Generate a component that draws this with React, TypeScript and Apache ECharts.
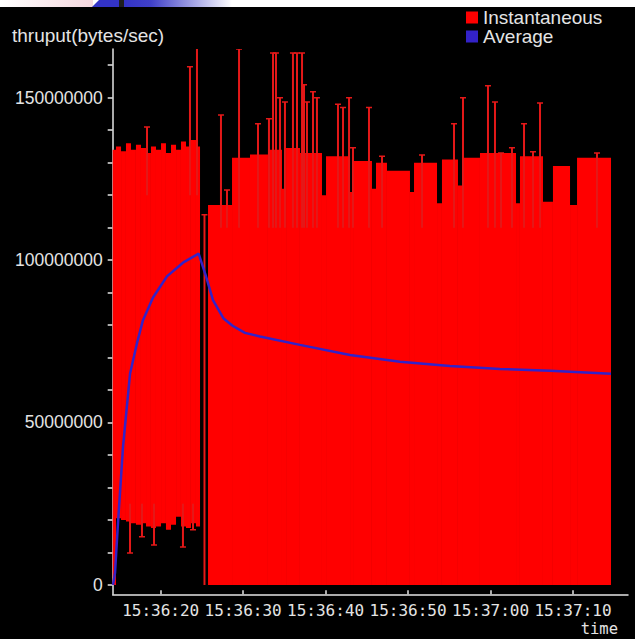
import React, { useEffect, useRef } from 'react';
import * as echarts from 'echarts';

// Time values are seconds after 15:36:00; throughput values are in millions of bytes/sec.
const X_MIN = 14.18;
const X_MAX = 76.67;
const Y_MIN_M = -2.9;
const Y_MAX_M = 165;

const xTickSeconds = [20, 30, 40, 50, 60, 70];
const yLabelValuesM = [0, 50, 100, 150];
const yTickValuesM = [0, 10, 20, 30, 40, 50, 60, 70, 80, 90, 100, 110, 120, 130, 140, 150, 160];

const seriesNames = ['Instantaneous', 'Average'];

// Instantaneous: envelope of the dense samples (start, end, low, high)
const segStart = [
  14.18, 14.58, 15.19, 15.79, 16.4, 17.0, 17.61, 18.22, 18.82, 19.43, 20.04, 20.64, 21.25, 21.86, 22.46, 23.07, 23.67, 24.28,
  25.74, 28.65, 30.83, 33.01, 34.71, 35.2, 36.89, 39.56, 40.05, 42.96, 43.44, 45.62, 46.11, 47.44, 50.23, 50.72, 53.51,
  54.11, 56.05, 56.54, 58.72, 63.09, 63.57, 66.36, 67.57, 69.64, 70.49,
];
const segEnd = [
  14.58, 15.19, 15.79, 16.4, 17.0, 17.61, 18.22, 18.82, 19.43, 20.04, 20.64, 21.25, 21.86, 22.46, 23.07, 23.67, 24.28, 24.77,
  28.65, 30.83, 33.01, 34.71, 35.2, 36.89, 39.56, 40.05, 42.96, 43.44, 45.62, 46.11, 47.44, 50.23, 50.72, 53.51, 54.11,
  56.05, 56.54, 58.72, 63.09, 63.57, 66.36, 67.57, 69.64, 70.49, 74.61,
];
const segLowM = [
  0, 20.5, 20, 19.5, 19, 18.5, 19, 18, 17.5, 18, 19, 17, 18.5, 21, 18, 17.5, 19, 18,
  0, 0, 0, 0, 0, 0, 0, 0, 0, 0, 0, 0, 0, 0, 0, 0, 0,
  0, 0, 0, 0, 0, 0, 0, 0, 0, 0,
];
const segHighM = [
  134, 135, 133.5, 136, 134, 135.5, 134.5, 133, 135, 134, 136, 133, 135.5, 134, 136.5, 135, 137, 135,
  117, 131.5, 132.5, 134, 122, 134.5, 133, 120, 132, 121, 130.5, 122, 130, 127.5, 121, 130, 117.5,
  131, 123, 131.5, 133, 117.5, 132, 118, 129, 117, 131.5,
];

// Instantaneous: isolated samples that stick out of the envelope (time, from, to)
const stemTime = [
  18.34, 23.55, 24.4, 16.28, 17.73, 19.19, 22.7, 23.92, 25.31,
  27.31, 28.04, 29.5, 31.8, 33.13, 33.62, 33.98, 34.47, 35.07, 36.04, 36.53, 37.14, 37.38, 37.74, 38.47, 38.95,
  41.5, 42.11, 42.84, 43.32, 45.26, 46.84, 51.69, 55.57, 56.66, 59.69, 60.54, 61.27, 62.6, 64.06, 65.15, 66.0, 72.91,
];
const stemFromM = [
  120, 120, 120, 25, 25, 25, 25, 25, 0,
  110, 110, 110, 110, 110, 110, 110, 110, 110, 110, 110, 110, 110, 110, 110, 110,
  110, 110, 110, 110, 110, 110, 110, 110, 110, 110, 110, 110, 110, 110, 110, 110, 110,
];
const stemToM = [
  141, 159.5, 165.5, 9.8, 14.8, 12.3, 11.7, 17, 114,
  144.7, 121.6, 165, 142, 143.5, 163.8, 163.8, 150, 148.7, 163.8, 163.8, 163.8, 154, 148.7, 151.8, 150,
  148, 147, 150, 134.6, 147, 132, 132.4, 142, 150, 153.7, 148.7, 133, 134.6, 142, 133.4, 148.4, 133,
];

// Average
const avgTime = [
  14.22, 14.46, 14.82, 15.43, 16.28, 17.13, 17.85, 19.07, 20.76, 22.7, 24.6, 25.46, 26.34, 27.63, 28.71, 30.22, 32.04,
  36.89, 42.96, 49.02, 55.08, 61.15, 67.21, 74.61,
];
const avgValueM = [
  0, 3.7, 19, 42.5, 65, 74.5, 81.5, 88.5, 95, 99.2, 102, 95.3, 87.7, 82, 79.8, 77.6, 76.5,
  73.9, 70.8, 68.7, 67.4, 66.5, 65.9, 65,
];

const M = 1e6;
const RED = '#ff0000';
const STEM = '#e41818';
const BLUE = '#3322c8';
const TEXT = '#e4e4e4';

const fmtTime = (v: number) => {
  const total = 36 * 60 + Math.round(v);
  const m = Math.floor(total / 60);
  const s = total % 60;
  return `15:${String(m).padStart(2, '0')}:${String(s).padStart(2, '0')}`;
};

export default function App() {
  const ref = useRef<HTMLDivElement>(null);
  useEffect(() => {
    if (!ref.current) return;
    const chart = echarts.init(ref.current, undefined, { renderer: 'svg' });

    const bandData = segStart.map((s, i) => [s, segEnd[i], segLowM[i] * M, segHighM[i] * M]);
    const stemData = stemTime.map((t, i) => [t, stemFromM[i] * M, stemToM[i] * M]);
    const avgData = avgTime.map((t, i) => [t, avgValueM[i] * M]);

    chart.setOption({
      animation: false,
      backgroundColor: '#000',
      textStyle: { fontFamily: 'Liberation Sans' },
      title: {
        text: 'thruput(bytes/sec)',
        left: 12,
        top: 26,
        padding: 0,
        textStyle: { color: TEXT, fontSize: 19, fontWeight: 'normal', fontFamily: 'Liberation Sans' },
      },
      legend: {
        data: seriesNames,
        left: 466,
        top: 8,
        orient: 'vertical',
        icon: 'rect',
        itemWidth: 12,
        itemHeight: 12,
        itemGap: 0,
        padding: 0,
        selectedMode: false,
        textStyle: { color: TEXT, fontSize: 19, fontFamily: 'Liberation Sans' },
      },
      graphic: [
        {
          type: 'rect',
          shape: { x: 0, y: 0, width: 635, height: 7 },
          style: { fill: '#ffffff' },
          z: 100,
        },
        {
          type: 'rect',
          shape: { x: 0, y: 0, width: 93, height: 7 },
          style: {
            fill: {
              type: 'linear', x: 0, y: 0, x2: 1, y2: 0,
              colorStops: [{ offset: 0, color: '#ffffff' }, { offset: 1, color: '#f5d8df' }],
            },
          },
          z: 101,
        },
        {
          type: 'polygon',
          shape: { points: [[99, 0], [120, 0], [120, 7], [92, 7]] },
          style: { fill: '#3333c6' },
          z: 101,
        },
        {
          type: 'rect',
          shape: { x: 119, y: 0, width: 5, height: 7 },
          style: { fill: '#1e1e1e' },
          z: 101,
        },
        {
          type: 'rect',
          shape: { x: 124, y: 0, width: 108, height: 7 },
          style: {
            fill: {
              type: 'linear', x: 0, y: 0, x2: 1, y2: 0,
              colorStops: [
                { offset: 0, color: '#3333c6' },
                { offset: 0.25, color: '#4040c8' },
                { offset: 1, color: '#ffffff' },
              ],
            },
          },
          z: 101,
        },
      ],
      grid: {
        left: 112.7,
        right: 7,
        top: 49,
        bottom: 44.7,
        containLabel: false,
        outerBoundsMode: 'none',
      },
      xAxis: {
        type: 'value',
        min: X_MIN,
        max: X_MAX,
        name: 'time',
        nameLocation: 'end',
        nameGap: -10,
        nameMoveOverlap: false,
        nameTextStyle: {
          color: TEXT,
          fontFamily: 'DejaVu Sans Mono',
          fontSize: 15.5,
          lineHeight: 12,
          align: 'right',
          verticalAlign: 'top',
          padding: [29, 0, 0, 0],
        },
        axisLine: { show: true, onZero: false, lineStyle: { color: TEXT, width: 1.5 } },
        axisTick: { show: true, inside: true, length: 4, customValues: xTickSeconds, lineStyle: { color: TEXT, width: 1.5 } },
        axisLabel: {
          customValues: xTickSeconds,
          formatter: (v: number) => fmtTime(v),
          color: TEXT,
          fontFamily: 'DejaVu Sans Mono',
          fontSize: 16,
          lineHeight: 15,
          margin: 9,
        },
        splitLine: { show: false },
      },
      yAxis: {
        type: 'value',
        min: Y_MIN_M * M,
        max: Y_MAX_M * M,
        axisLine: { show: true, lineStyle: { color: TEXT, width: 1.5 } },
        axisTick: {
          show: true,
          length: 5,
          customValues: yTickValuesM.map((v) => v * M),
          lineStyle: { color: TEXT, width: 1.5 },
        },
        axisLabel: {
          customValues: yLabelValuesM.map((v) => v * M),
          formatter: (v: number) => String(Math.round(v)),
          color: TEXT,
          fontFamily: 'Liberation Sans',
          fontSize: 17.5,
          margin: 10,
        },
        splitLine: { show: false },
      },
      series: [
        {
          name: 'Instantaneous',
          type: 'custom',
          clip: true,
          z: 2,
          itemStyle: { color: RED },
          encode: { x: [0, 1], y: [2, 3] },
          data: bandData,
          renderItem: (params: any, api: any) => {
            const p0 = api.coord([api.value(0), api.value(3)]);
            const p1 = api.coord([api.value(1), api.value(2)]);
            return {
              type: 'rect',
              shape: { x: p0[0], y: p0[1], width: p1[0] - p0[0], height: p1[1] - p0[1] },
              style: { fill: RED },
            };
          },
        },
        {
          name: 'Instantaneous',
          type: 'custom',
          clip: true,
          z: 3,
          itemStyle: { color: RED },
          encode: { x: 0, y: [1, 2] },
          data: stemData,
          renderItem: (params: any, api: any) => {
            const a = api.coord([api.value(0), api.value(1)]);
            const b = api.coord([api.value(0), api.value(2)]);
            return {
              type: 'group',
              children: [
                { type: 'line', shape: { x1: a[0], y1: a[1], x2: b[0], y2: b[1] }, style: { stroke: STEM, lineWidth: 2 } },
                { type: 'line', shape: { x1: b[0] - 3, y1: b[1], x2: b[0] + 3, y2: b[1] }, style: { stroke: STEM, lineWidth: 1.5 } },
              ],
            };
          },
        },
        {
          name: 'Average',
          type: 'line',
          z: 4,
          showSymbol: false,
          symbol: 'none',
          itemStyle: { color: BLUE },
          lineStyle: { color: BLUE, width: 2.5 },
          data: avgData,
        },
      ],
    });
    return () => chart.dispose();
  }, []);
  return <div ref={ref} style={{ position: 'fixed', left: 0, top: 0, width: 635, height: 639 }} />;
}
